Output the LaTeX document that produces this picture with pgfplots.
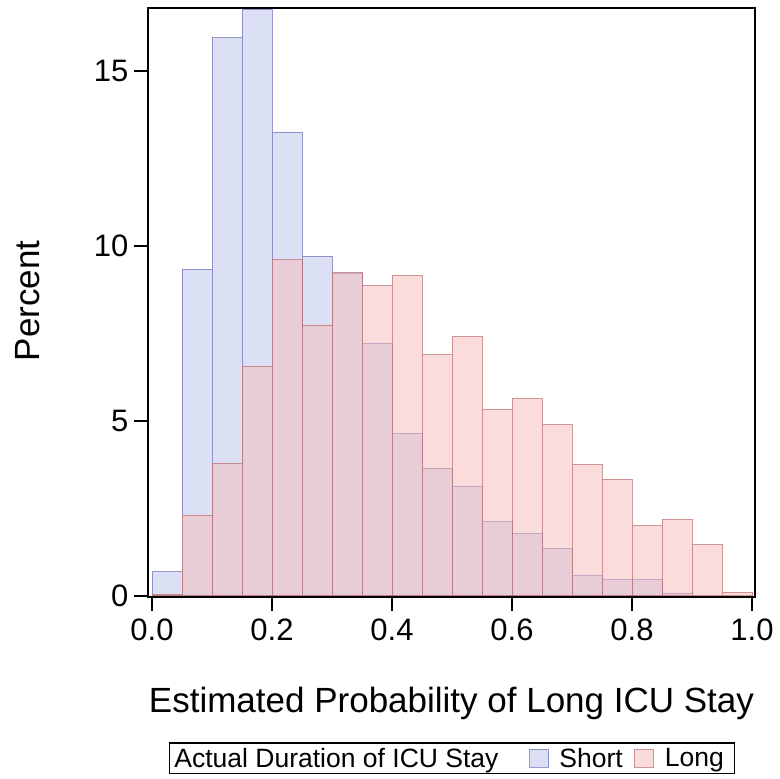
\documentclass[border=0pt]{standalone}
\usepackage{pgfplots}
\pgfplotsset{compat=1.18}
\usepackage{fontspec}
\setmainfont{Liberation Sans}
\definecolor{shortfill}{RGB}{185,193,235}
\definecolor{longfill}{RGB}{245,185,185}
\definecolor{shortedge}{RGB}{110,110,185}
\definecolor{longedge}{RGB}{185,110,110}
\begin{document}
\begin{tikzpicture}
\path[use as bounding box] (0,0) rectangle (780pt,779pt);
\begin{axis}[
  at={(148pt,182pt)}, anchor=south west,
  scale only axis, width=607pt, height=589pt,
  xmin=-0.0067, xmax=1.005, ymin=-0.03, ymax=16.8,
  xtick={0,0.2,0.4,0.6,0.8,1.0},
  xticklabels={0.0,0.2,0.4,0.6,0.8,1.0},
  ytick={0,5,10,15},
  tick pos=left, tick align=outside,
  major tick length=14pt,
  every tick/.style={black, line width=1.3pt},
  axis line style={line width=1.6pt},
  /pgf/number format/assume math mode=true,
  tick label style={font=\fontsize{31}{36}\selectfont},
  xticklabel style={yshift=-4pt},
  yticklabel style={xshift=-2pt},
  label style={font=\fontsize{35}{40}\selectfont},
  xlabel={Estimated Probability of Long ICU Stay},
  ylabel={Percent},
  xlabel style={at={(axis description cs:0.5,-0.180)}, anchor=center},
  ylabel style={at={(axis description cs:-0.198,0.503)}, anchor=center},
  legend columns=3,
  legend image code/.code={\draw[#1] (0pt,-9pt) rectangle (19pt,9pt);},
  legend style={at={(axis description cs:0.501,-0.274)}, anchor=center,
    draw=black, line width=1.2pt, inner xsep=3pt, inner ysep=3pt,
    font=\fontsize{26.5}{30}\selectfont},
]
\addlegendimage{empty legend}
\addlegendentry{Actual Duration of ICU Stay\rule{29pt}{0pt}}
\addplot[ybar, bar width=0.05, bar shift=0pt, fill=shortfill, fill opacity=0.5, draw=shortedge, draw opacity=0.7, line width=1pt] coordinates {
(0.025,0.69) (0.075,9.34) (0.125,15.95) (0.175,16.76) (0.225,13.25)
(0.275,9.71) (0.325,9.20) (0.375,7.22) (0.425,4.65) (0.475,3.65)
(0.525,3.14) (0.575,2.12) (0.625,1.79) (0.675,1.36) (0.725,0.57)
(0.775,0.46) (0.825,0.46) (0.875,0.08)
};
\addlegendentry{\rule{8pt}{0pt}Short\rule{9pt}{0pt}}
\addplot[ybar, bar width=0.05, bar shift=0pt, fill=longfill, fill opacity=0.5, draw=longedge, draw opacity=0.7, line width=1pt] coordinates {
(0.025,0.05) (0.075,2.31) (0.125,3.79) (0.175,6.55) (0.225,9.60)
(0.275,7.74) (0.325,9.25) (0.375,8.87) (0.425,9.16) (0.475,6.89)
(0.525,7.41) (0.575,5.33) (0.625,5.63) (0.675,4.89) (0.725,3.76)
(0.775,3.34) (0.825,2.00) (0.875,2.19) (0.925,1.46) (0.975,0.10)
};
\addlegendentry{\rule{9pt}{0pt}Long\rule{6pt}{0pt}}
\end{axis}
\end{tikzpicture}
\end{document}
